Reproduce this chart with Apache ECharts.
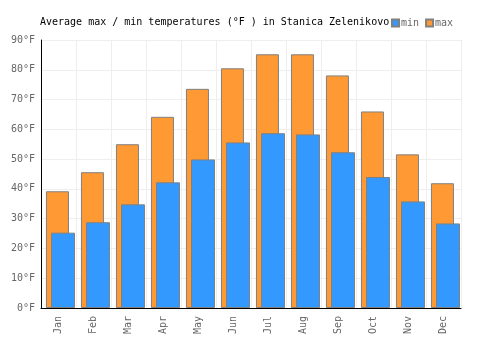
<!DOCTYPE html>
<html>
<head>
<meta charset="utf-8">
<script src="https://cdn.jsdelivr.net/npm/echarts@6/dist/echarts.min.js"></script>
<style>
  html, body { margin: 0; padding: 0; background: #fff; }
  #chart { width: 500px; height: 350px; }
</style>
</head>
<body>
<div id="chart"></div>
<script>
const months = ['Jan', 'Feb', 'Mar', 'Apr', 'May', 'Jun', 'Jul', 'Aug', 'Sep', 'Oct', 'Nov', 'Dec']
const maxTemps = [39.2, 45.6, 55.0, 64.2, 73.6, 80.5, 85.2, 85.2, 78.1, 66.0, 51.6, 41.9]
const minTemps = [25.3, 28.8, 34.8, 42.2, 49.9, 55.6, 58.7, 58.3, 52.3, 44.0, 35.8, 28.4]

const mono = 'DejaVu Sans Mono'
const chart = echarts.init(document.getElementById('chart'))

chart.setOption({
  animation: false,
  title: {
    text: 'Average max / min temperatures (°F ) in Stanica Zelenikovo',
    left: 35,
    top: 12,
    textStyle: {
      fontFamily: mono,
      fontSize: 10,
      fontWeight: 'normal',
      color: '#000'
    }
  },
  legend: {
    data: ['min', 'max'],
    left: 386,
    top: 13,
    icon: 'rect',
    itemWidth: 7,
    itemHeight: 7,
    itemGap: 6,
    textStyle: {
      fontFamily: mono,
      fontSize: 10,
      color: '#666',
      padding: [0, 0, 0, -3]
    }
  },
  grid: {
    left: 41,
    right: 39,
    top: 40,
    bottom: 42
  },
  xAxis: {
    type: 'category',
    data: months,
    axisTick: { show: false },
    axisLine: { lineStyle: { color: '#000', width: 1 } },
    splitLine: { show: true, lineStyle: { color: '#eee' } },
    axisLabel: {
      rotate: 90,
      fontFamily: mono,
      fontSize: 10,
      color: '#666',
      margin: 8
    }
  },
  yAxis: {
    type: 'value',
    min: 0,
    max: 90,
    interval: 10,
    axisLine: { show: true, lineStyle: { color: '#000', width: 1 } },
    axisTick: { show: false },
    splitLine: { lineStyle: { color: '#eee' } },
    axisLabel: {
      formatter: '{value}°F',
      fontFamily: mono,
      fontSize: 10,
      color: '#666',
      margin: 6
    }
  },
  series: [
    {
      // empty spacer so the overlapping pair sits a little right of centre
      name: 'pad',
      type: 'bar',
      barWidth: 18,
      barGap: '-78%',
      data: []
    },
    {
      name: 'max',
      type: 'bar',
      barWidth: 23,
      barGap: '-78%',
      itemStyle: { color: '#ff9933', borderColor: '#808080', borderWidth: 1 },
      data: maxTemps
    },
    {
      name: 'min',
      type: 'bar',
      barWidth: 24,
      barGap: '-78%',
      itemStyle: { color: '#3399ff', borderColor: '#808080', borderWidth: 1 },
      data: minTemps
    }
  ]
})
</script>
</body>
</html>
